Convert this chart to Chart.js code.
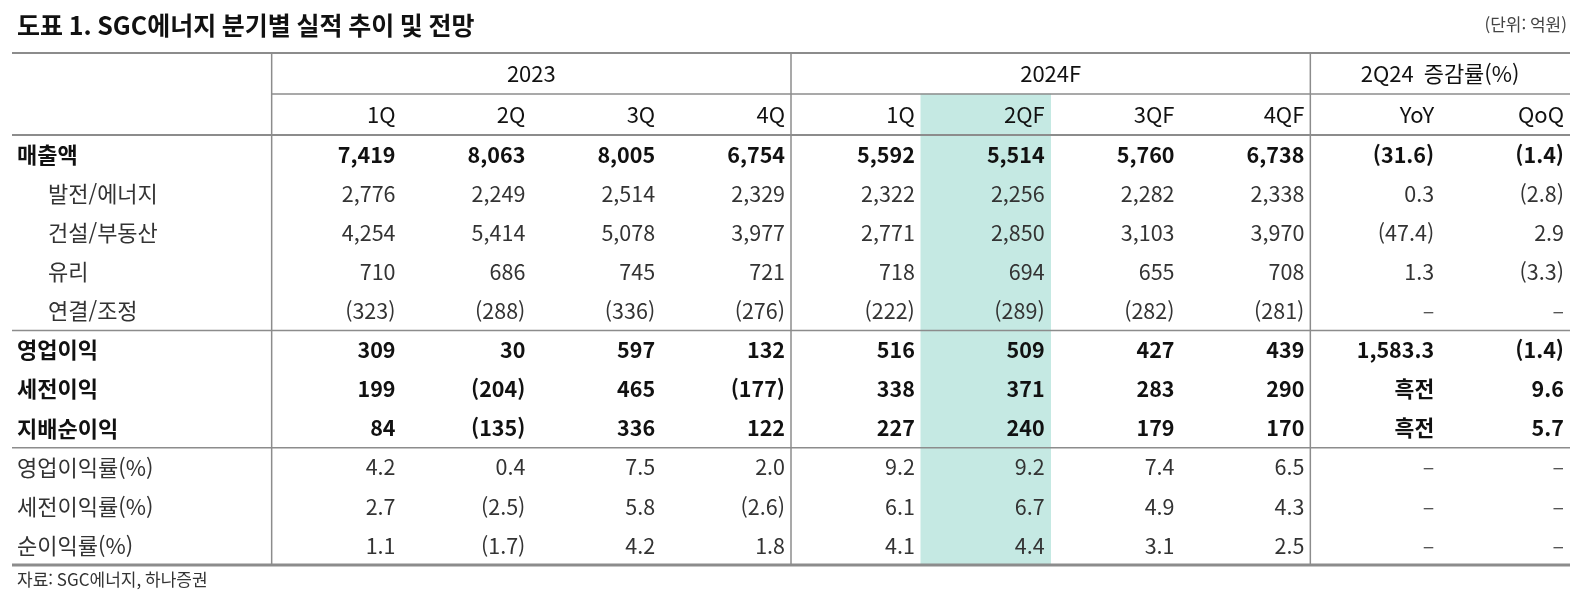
<!DOCTYPE html>
<html lang="ko">
<head>
<meta charset="utf-8">
<title>SGC에너지 분기별 실적 추이 및 전망</title>
<script src="https://cdn.jsdelivr.net/npm/chart.js@4.4.1/dist/chart.umd.min.js"></script>
<style>
  html, body { margin: 0; padding: 0; background: #fff; }
  #wrap { width: 1584px; height: 608px; }
</style>
</head>
<body>
<div id="wrap"><canvas id="tbl" width="1584" height="608"></canvas></div>
<script>
// --- Table data ---
const titleText = '도표 1. SGC에너지 분기별 실적 추이 및 전망';
const unitText = '(단위: 억원)';
const sourceText = '자료: SGC에너지, 하나증권';

const years = ['2023', '2024F'];
const quarters2023 = ['1Q', '2Q', '3Q', '4Q'];
const quarters2024 = ['1Q', '2QF', '3QF', '4QF'];
const changeTitle = '2Q24  증감률(%)';
const changeCols = ['YoY', 'QoQ'];

const rowLabels = ['매출액', '발전/에너지', '건설/부동산', '유리', '연결/조정',
                   '영업이익', '세전이익', '지배순이익',
                   '영업이익률(%)', '세전이익률(%)', '순이익률(%)'];

const sales        = [7419, 8063, 8005, 6754, 5592, 5514, 5760, 6738];
const power        = [2776, 2249, 2514, 2329, 2322, 2256, 2282, 2338];
const construction = [4254, 5414, 5078, 3977, 2771, 2850, 3103, 3970];
const glass        = [710, 686, 745, 721, 718, 694, 655, 708];
const adjustment   = [-323, -288, -336, -276, -222, -289, -282, -281];
const opProfit     = [309, 30, 597, 132, 516, 509, 427, 439];
const pretaxProfit = [199, -204, 465, -177, 338, 371, 283, 290];
const netProfit    = [84, -135, 336, 122, 227, 240, 179, 170];
const opMargin     = [4.2, 0.4, 7.5, 2.0, 9.2, 9.2, 7.4, 6.5];
const pretaxMargin = [2.7, -2.5, 5.8, -2.6, 6.1, 6.7, 4.9, 4.3];
const netMargin    = [1.1, -1.7, 4.2, 1.8, 4.1, 4.4, 3.1, 2.5];

const salesChg        = [-31.6, -1.4];
const powerChg        = [0.3, -2.8];
const constructionChg = [-47.4, 2.9];
const glassChg        = [1.3, -3.3];
const adjustmentChg   = [null, null];
const opProfitChg     = [1583.3, -1.4];
const pretaxProfitChg = ['흑전', 9.6];
const netProfitChg    = ['흑전', 5.7];
const marginChg       = [null, null];

const rowValues = [sales, power, construction, glass, adjustment,
                   opProfit, pretaxProfit, netProfit, opMargin, pretaxMargin, netMargin];
const rowChanges = [salesChg, powerChg, constructionChg, glassChg, adjustmentChg,
                    opProfitChg, pretaxProfitChg, netProfitChg, marginChg, marginChg, marginChg];

const highlightQuarter = '2QF';

// --- Layout / style ---
const FONT = "'Noto Sans CJK KR', 'Noto Sans', sans-serif";
const LINE = '#8c8c8c';
const boldRows = [0, 5, 6, 7];
const indentRows = [1, 2, 3, 4];
const decimalRows = [8, 9, 10];
const groupBreaks = [5, 8];
const HEADER_UNIT = 41 / 39.1;   // header rows are a bit taller than body rows
const LABEL_SPAN = 2;             // label column is two bands wide

// category keys: label column (2 bands), 8 quarters, 2 change columns
const colKeys = ['label-a', 'label-b']
  .concat(quarters2023.map(q => years[0] + ' ' + q))
  .concat(quarters2024.map(q => years[1] + ' ' + q))
  .concat(changeCols);

const highlightIdx = colKeys.indexOf(years[1] + ' ' + highlightQuarter);
const highlightData = colKeys.map((k, i) => i === highlightIdx ? [-HEADER_UNIT, rowLabels.length] : null);

function fmt(v, decimals) {
  if (v === null || v === undefined) return '–';
  if (typeof v === 'string') return v;
  const s = Math.abs(v).toLocaleString('en-US', { minimumFractionDigits: decimals, maximumFractionDigits: decimals });
  return v < 0 ? '(' + s + ')' : s;
}

// --- Drawing plugin: grid rules and cell text, placed with the chart scales ---
const tablePlugin = {
  id: 'tablePlugin',
  afterDatasetsDraw(chart) {
    const ctx = chart.ctx;
    const xs = chart.scales.x;
    const ys = chart.scales.y;
    const area = chart.chartArea;
    const band = (area.right - area.left) / colKeys.length;
    const edge = i => xs.getPixelForValue(i) - band / 2;   // left edge of band i
    const yAt = v => ys.getPixelForValue(v);
    const pad = 6;

    ctx.save();

    // title, unit, source
    ctx.textBaseline = 'middle';
    ctx.fillStyle = '#111';
    ctx.font = 'bold 25px ' + FONT;
    ctx.textAlign = 'left';
    ctx.fillText(titleText, area.left + 5, 25);
    ctx.font = '17px ' + FONT;
    ctx.fillStyle = '#444';
    ctx.textAlign = 'right';
    ctx.fillText(unitText, area.right - 3, 25);
    ctx.textAlign = 'left';
    ctx.fillStyle = '#333';
    ctx.fillText(sourceText, area.left + 5, area.bottom + 15);

    // horizontal rules
    const hline = (y, x0, x1, w) => {
      ctx.beginPath();
      ctx.lineWidth = w;
      ctx.strokeStyle = LINE;
      ctx.moveTo(x0, y);
      ctx.lineTo(x1, y);
      ctx.stroke();
    };
    hline(yAt(-2 * HEADER_UNIT), area.left, area.right, 2);
    hline(yAt(-HEADER_UNIT), edge(LABEL_SPAN), area.right, 1.5);
    hline(yAt(0), area.left, area.right, 2);
    groupBreaks.forEach(r => hline(yAt(r), area.left, area.right, 1.5));
    hline(yAt(rowLabels.length), area.left, area.right, 3);

    // vertical rules
    const groupEdges = [LABEL_SPAN, LABEL_SPAN + quarters2023.length,
                        LABEL_SPAN + quarters2023.length + quarters2024.length];
    groupEdges.forEach(i => {
      ctx.beginPath();
      ctx.lineWidth = 1.5;
      ctx.strokeStyle = LINE;
      ctx.moveTo(edge(i), yAt(-2 * HEADER_UNIT));
      ctx.lineTo(edge(i), yAt(rowLabels.length));
      ctx.stroke();
    });

    // header: years and change title centered over groups
    const groupTitles = [years[0], years[1], changeTitle];
    ctx.font = '22px ' + FONT;
    ctx.fillStyle = '#111';
    ctx.textAlign = 'center';
    const yearY = yAt(-1.5 * HEADER_UNIT);
    groupTitles.forEach((t, g) => {
      const x0 = edge(groupEdges[g]);
      const x1 = g < 2 ? edge(groupEdges[g + 1]) : area.right;
      ctx.fillText(t, (x0 + x1) / 2, yearY);
    });

    // header: quarters and YoY/QoQ
    const subHeads = quarters2023.concat(quarters2024).concat(changeCols);
    const qY = yAt(-0.5 * HEADER_UNIT);
    ctx.textAlign = 'right';
    subHeads.forEach((h, j) => {
      ctx.fillText(h, edge(LABEL_SPAN + j) + band - pad, qY);
    });

    // body rows
    rowLabels.forEach((label, r) => {
      const y = yAt(r + 0.5);
      const bold = boldRows.includes(r);
      const decimals = decimalRows.includes(r) ? 1 : 0;
      const weight = bold ? 'bold ' : '';
      ctx.font = weight + '22px ' + FONT;
      ctx.fillStyle = bold ? '#111' : '#333';
      ctx.textAlign = 'left';
      ctx.fillText(label, area.left + (indentRows.includes(r) ? 36 : 5), y);

      ctx.font = weight + '21.5px ' + FONT;
      ctx.textAlign = 'right';
      rowValues[r].forEach((v, j) => {
        ctx.fillText(fmt(v, decimals), edge(LABEL_SPAN + j) + band - pad, y);
      });
      rowChanges[r].forEach((v, j) => {
        const s = fmt(v, 1);
        ctx.fillStyle = s === '–' ? '#555' : (bold ? '#111' : '#333');
        ctx.fillText(s, edge(LABEL_SPAN + rowValues[r].length + j) + band - pad, y);
      });
    });

    ctx.restore();
  }
};

new Chart(document.getElementById('tbl').getContext('2d'), {
  type: 'bar',
  data: {
    labels: colKeys,
    datasets: [{
      label: highlightQuarter,
      data: highlightData,
      backgroundColor: '#c5e9e3',
      borderWidth: 0,
      categoryPercentage: 1,
      barPercentage: 1
    }]
  },
  options: {
    responsive: false,
    animation: false,
    layout: { padding: { left: 12, right: 14, top: 53, bottom: 43 } },
    scales: {
      x: { type: 'category', display: false, offset: true },
      y: { type: 'linear', display: false, reverse: true, min: -2 * HEADER_UNIT, max: rowLabels.length }
    },
    plugins: {
      legend: { display: false },
      tooltip: { enabled: false }
    }
  },
  plugins: [tablePlugin]
});
</script>
</body>
</html>
